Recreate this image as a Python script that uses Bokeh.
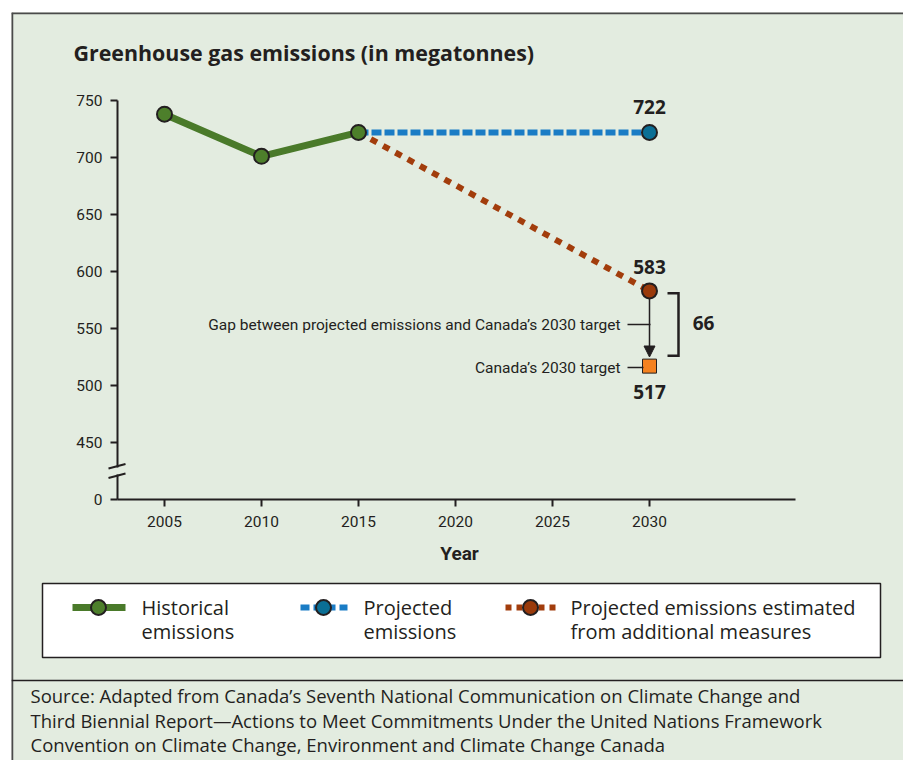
from bokeh.plotting import figure
from bokeh.models import Range1d, FixedTicker, Label, Arrow, NormalHead, Span
from bokeh.embed import file_html
from bokeh.resources import INLINE

# ---------------- data ----------------
years_hist = [2005, 2010, 2015]
emis_hist = [738, 701, 722]
years_proj = [2015, 2030]
emis_proj = [722, 722]
years_add = [2015, 2030]
emis_add = [722, 583]
target_year = 2030
target_value = 517
x_ticks = [2005, 2010, 2015, 2020, 2025, 2030]
y_ticks = [400, 450, 500, 550, 600, 650, 700, 750]
y_tick_labels = {400: "0"}   # axis break: bottom tick stands for 0

title_text = "Greenhouse gas emissions (in megatonnes)"
legend_labels = [["Historical", "emissions"], ["Projected", "emissions"],
                 ["Projected emissions estimated", "from additional measures"]]
source_lines = [
    "Source: Adapted from Canada\u2019s Seventh National Communication on Climate Change and",
    "Third Biennial Report\u2014Actions to Meet Commitments Under the United Nations Framework",
    "Convention on Climate Change, Environment and Climate Change Canada",
]

# ---------------- styles ----------------
BG = "#e3ece0"
DARK = "#231f20"
GREEN = "#4a7a2a"
GREEN_FILL = "#4d7f2b"
BLUE = "#1a7cc5"
BLUE_FILL = "#0b6f95"
RUST = "#a23d0c"
RUST_FILL = "#9a3a0b"
ORANGE = "#f58220"
COND = "Roboto"
REG = "Open Sans"

W, H = 903, 760
# pixel -> data helpers (layout only)
SX = 19.4   # px per year
SY = 1.14   # px per megatonne
def X(px):
    return 2005 + (px - 164) / SX
def Y(py):
    return 400 + (499 - py) / SY

p = figure(width=W, height=H, output_backend="svg", toolbar_location=None,
           x_range=Range1d(X(11), X(W)), y_range=Range1d(Y(H), Y(12)),
           min_border_left=11, min_border_top=12, min_border_right=0, min_border_bottom=0,
           background_fill_color=BG, border_fill_color="white",
           outline_line_color=None)
p.grid.visible = False

# frame border (left + top) and source separator
p.add_layout(Span(location=X(11.5), dimension="height", line_color="#4a4a4a", line_width=2.5))
p.add_layout(Span(location=Y(12.5), dimension="width", line_color="#4a4a4a", line_width=2.5))
p.add_layout(Span(location=Y(680), dimension="width", line_color=DARK, line_width=1.5))

# ---------------- axes ----------------
xa = p.xaxis[0]
xa.fixed_location = 400
xa.bounds = (X(117), X(795))
xa.ticker = FixedTicker(ticks=x_ticks)
xa.axis_line_color = DARK
xa.axis_line_width = 2
xa.major_tick_line_color = DARK
xa.major_tick_line_width = 2
xa.major_tick_out = 7
xa.major_tick_in = 0
xa.minor_tick_line_color = None
xa.major_label_text_font = COND
xa.major_label_text_font_size = "15.5px"
xa.major_label_text_color = DARK
xa.major_label_standoff = 9

ya = p.yaxis[0]
ya.fixed_location = X(117)
ya.bounds = (400, 750)
ya.ticker = FixedTicker(ticks=y_ticks)
ya.major_label_overrides = y_tick_labels
ya.axis_line_color = DARK
ya.axis_line_width = 2
ya.major_tick_line_color = DARK
ya.major_tick_line_width = 2
ya.major_tick_out = 7
ya.major_tick_in = 0
ya.minor_tick_line_color = None
ya.major_label_text_font = COND
ya.major_label_text_font_size = "15.5px"
ya.major_label_text_color = DARK
ya.major_label_standoff = 8

# axis break
gap = p.quad(left=[X(113)], right=[X(121)], top=[Y(467)], bottom=[Y(474)],
             fill_color=BG, line_color=None)
gap.level = "overlay"
sl = p.segment(x0=[X(108), X(108)], y0=[Y(468), Y(477.5)], x1=[X(125), X(125)], y1=[Y(463.5), Y(473)],
               line_color=DARK, line_width=2)
sl.level = "overlay"

p.add_layout(Label(x=X(459), y=Y(553), text="Year", text_font=COND, text_font_style="bold",
                   text_font_size="19px", text_color=DARK, text_align="center", text_baseline="middle"))

# ---------------- series ----------------
p.line(years_proj, emis_proj, line_color=BLUE, line_width=6, line_dash="10 3", line_cap="butt")
p.line(years_add, emis_add, line_color=RUST, line_width=6, line_dash="7 7", line_cap="butt")
p.line(years_hist, emis_hist, line_color=GREEN, line_width=7, line_join="round")

p.scatter(years_proj[-1:], emis_proj[-1:], size=15, fill_color=BLUE_FILL, line_color=DARK, line_width=2)
p.scatter(years_add[-1:], emis_add[-1:], size=15, fill_color=RUST_FILL, line_color=DARK, line_width=2)
p.scatter(years_hist, emis_hist, size=15, fill_color=GREEN_FILL, line_color=DARK, line_width=2)

# arrow from projection to target, target marker
p.add_layout(Arrow(end=NormalHead(size=11, fill_color=DARK, line_color=DARK),
                   x_start=target_year, y_start=emis_add[-1] - 7, x_end=target_year, y_end=target_value + 8,
                   line_color=DARK, line_width=1.5))
p.scatter([target_year], [target_value], marker="square", size=14, fill_color=ORANGE,
          line_color=DARK, line_width=1)

# value labels
for v, dy in [(emis_proj[-1], 22), (emis_add[-1], 21), (target_value, -23)]:
    p.add_layout(Label(x=target_year, y=v + dy, text=str(v), text_font=REG, text_font_style="bold",
                       text_font_size="19px", text_color=DARK, text_align="center", text_baseline="middle"))

# gap bracket
gap_value = emis_add[-1] - target_value
p.line([X(667), X(678), X(678), X(667)], [emis_add[-1] - 2, emis_add[-1] - 2, target_value + 9, target_value + 9],
       line_color=DARK, line_width=2.5, line_join="miter")
p.add_layout(Label(x=X(703), y=(emis_add[-1] + target_value) / 2 + 5, text=str(gap_value), text_font=REG,
                   text_font_style="bold", text_font_size="19px", text_color=DARK,
                   text_align="center", text_baseline="middle"))

# annotation texts with leaders
p.add_layout(Label(x=X(620), y=Y(324), text="Gap between projected emissions and Canada\u2019s 2030 target",
                   text_font=COND, text_font_size="15.5px", text_color=DARK, text_align="right",
                   text_baseline="middle"))
p.add_layout(Label(x=X(620), y=Y(367), text="Canada\u2019s 2030 target",
                   text_font=COND, text_font_size="15.5px", text_color=DARK, text_align="right",
                   text_baseline="middle"))
p.segment(x0=[X(627), X(627)], y0=[Y(324), Y(367)], x1=[X(650), X(643)], y1=[Y(324), Y(367)],
          line_color=DARK, line_width=1.5)

# title
p.add_layout(Label(x=X(73), y=Y(52), text=title_text, text_font=REG, text_font_style="bold",
                   text_font_size="21.4px", text_color=DARK, text_align="left", text_baseline="middle"))

# ---------------- legend ----------------
p.quad(left=[X(42)], right=[X(880)], top=[Y(583)], bottom=[Y(657)], fill_color="white",
       line_color=DARK, line_width=1.5)
ly = Y(607)
p.line([X(72), X(125)], [ly, ly], line_color=GREEN, line_width=7)
p.line([X(300), X(347)], [ly, ly], line_color=BLUE, line_width=6, line_dash="9 4")
p.line([X(505), X(557)], [ly, ly], line_color=RUST, line_width=6, line_dash="6 5")
p.scatter([X(98), X(323), X(530)], [ly, ly, ly], size=15,
          fill_color=[GREEN_FILL, BLUE_FILL, RUST_FILL], line_color=DARK, line_width=2)
for tx, lines in zip([141, 363, 570], legend_labels):
    for i, t in enumerate(lines):
        p.add_layout(Label(x=X(tx), y=Y(607 + 24 * i), text=t, text_font=REG, text_font_size="20px",
                           text_color=DARK, text_align="left", text_baseline="middle"))

# ---------------- source ----------------
for i, t in enumerate(source_lines):
    p.add_layout(Label(x=X(30), y=Y(695 + 24.5 * i), text=t, text_font=REG, text_font_size="18.5px",
                       text_color=DARK, text_align="left", text_baseline="middle"))

open("out.html", "w").write(file_html(p, INLINE))
